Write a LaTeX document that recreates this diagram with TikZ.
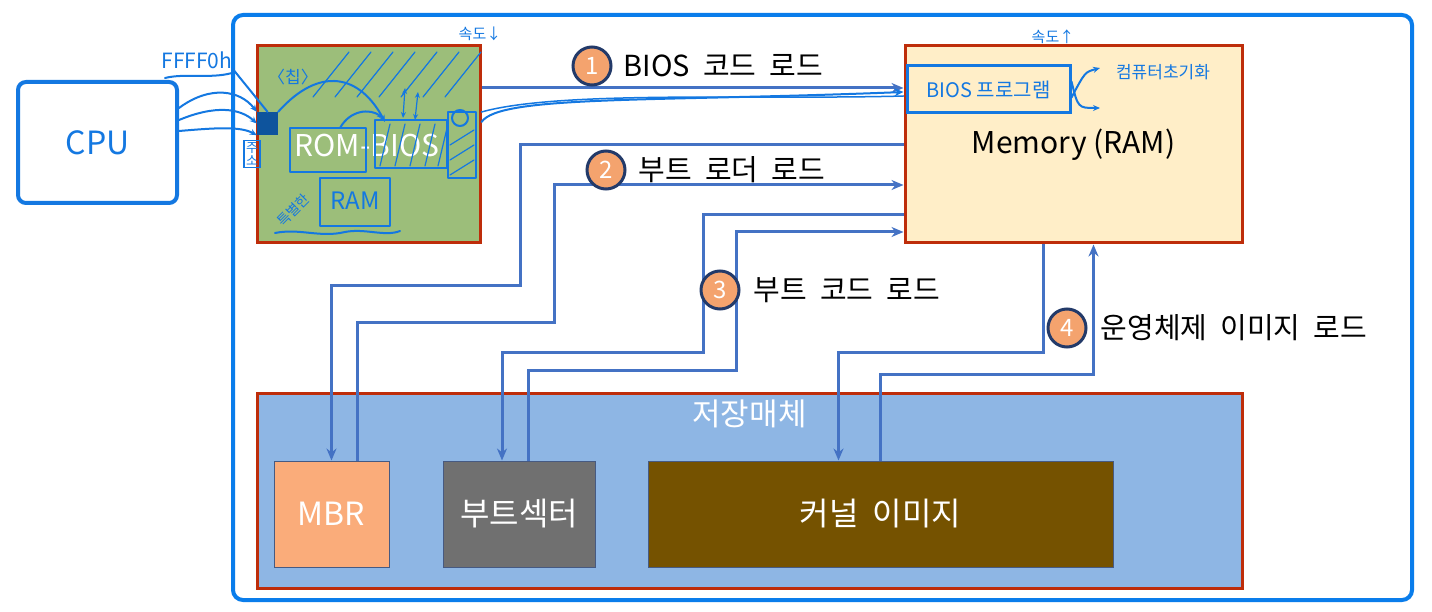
\documentclass[tikz,border=0pt]{standalone}
\usepackage{fontspec}
\setmainfont{Noto Sans CJK KR}
\newfontfamily\loadfont{Noto Sans CJK KR}[WordSpace=2.8]
\newfontfamily\partfont{Noto Sans CJK KR}[WordSpace=2]
\usepackage{tikz}
\usepackage{xcolor}
\usetikzlibrary{arrows.meta, positioning}
\definecolor{framebl}{RGB}{10,125,235}
\definecolor{handbl}{RGB}{20,120,225}
\definecolor{flowbl}{RGB}{68,114,196}
\definecolor{edgered}{RGB}{190,45,10}
\definecolor{romgreen}{RGB}{156,190,122}
\definecolor{memcream}{RGB}{255,238,200}
\definecolor{storeblue}{RGB}{142,182,228}
\definecolor{mbrorange}{RGB}{250,172,122}
\definecolor{bootgray}{RGB}{112,112,112}
\definecolor{kernbrown}{RGB}{117,82,0}
\definecolor{dotorange}{RGB}{244,163,110}
\definecolor{dotnavy}{RGB}{35,58,105}
\tikzstyle{bigbox} = [rectangle, draw=edgered, line width=3pt, inner sep=0pt]
\tikzstyle{partbox} = [rectangle, draw={rgb,255:red,70;green,90;blue,130}, line width=1pt,
  inner sep=0pt, minimum height=106, text=white, font=\partfont\fontsize{32}{34}\selectfont]
\tikzstyle{flow} = [->, draw=flowbl, line width=3pt]
\tikzstyle{numdot} = [circle, fill=dotorange, draw=dotnavy, line width=3pt, minimum size=38,
  inner sep=0pt, text=white, font=\fontsize{24}{26}\selectfont]
\tikzstyle{loadtext} = [inner sep=0pt, font=\loadfont\fontsize{29}{32}\selectfont]
\tikzstyle{hand} = [draw=handbl, line width=2pt, line cap=round, line join=round]
\tikzstyle{handtext} = [text=handbl, inner sep=0pt]

\begin{document}
\begin{tikzpicture}[x=1pt, y=-1pt, >={Stealth[length=12pt,width=10pt]}]
    \useasboundingbox (0,0) rectangle (1432,612);
    \fill[white] (0,0) rectangle (1432,612);

    % Bordo esterno del sistema
    \draw[draw=framebl, line width=4pt, rounded corners=10pt] (233,15) rectangle (1412,600);

    % Blocchi principali
    \node[bigbox, fill=romgreen, minimum width=223, minimum height=197] (rom) at (368.5,144.5) {};
    \node[bigbox, fill=memcream, minimum width=337, minimum height=197,
      font=\fontsize{30}{32}\selectfont] (mem) at (1073.5,144.5) {\raisebox{-3pt}{Memory (RAM)}};
    \node[bigbox, fill=storeblue, minimum width=985, minimum height=195] (store) at (749.5,490.5) {};
    \node[text=white, inner sep=0pt, font=\fontsize{31}{33}\selectfont, below=8pt of store.north] (storetitle) {저장매체};

    % Parti del supporto
    \node[partbox, fill=mbrorange, minimum width=115] (mbr) at (331.5,514) {MBR};
    \node[partbox, fill=bootgray, minimum width=152] (boot) at (519,514) {부트섹터};
    \node[partbox, fill=kernbrown, minimum width=465] (kern) at (880.5,514) {커널 이미지};

    % Testo stampato nel ROM
    \node[text=white, inner sep=0pt, font=\fontsize{30}{32}\selectfont] (romtext) at (367,146) {ROM-BIOS};

    % 1: BIOS
    \draw[flow] (rom.east |- 0,88) -- (mem.west |- 0,88);
    \node[numdot] (c1) at (592,66) {1};
    \node[loadtext, right=11pt of c1] (t1) {BIOS 코드 로드};

    % 2: boot loader
    \draw[flow] (mem.west |- 0,145) -| (520,286) -| (mbr.north);
    \draw[flow] ([xshift=26]mbr.north) |- (554,322) |- (mem.west |- 0,185);
    \node[numdot] (c2) at (606,170) {2};
    \node[loadtext, right=12pt of c2] (t2) {부트 로더 로드};

    % 3: boot code
    \draw[flow] (mem.west |- 0,215) -| (703,352) -| ([xshift=-17]boot.north);
    \draw[flow] ([xshift=9]boot.north) |- (736,370) |- (mem.west |- 0,232);
    \node[numdot] (c3) at (720,290) {3};
    \node[loadtext, right=13pt of c3] (t3) {부트 코드 로드};

    % 4: OS image
    \draw[flow] ([xshift=-30]mem.south) |- ([xshift=-42]kern.north |- 0,352) -- ([xshift=-42]kern.north);
    \draw[flow] (kern.north) |- ([xshift=20]mem.south |- 0,374) -- ([xshift=20]mem.south);
    \node[numdot] (c4) at (1067,328) {4};
    \node[loadtext, right=13pt of c4] (t4) {운영체제 이미지 로드};

    % Annotazioni a mano: CPU
    \node[draw=handbl, line width=4pt, rounded corners=8pt, minimum width=159, minimum height=121] (cpu) at (97.5,142.5) {};
    \node[handtext, font=\fontsize{32}{34}\selectfont] (cputext) at (cpu) {CPU};
    \node[handtext, font=\fontsize{21}{22}\selectfont] (ffff) at (197,60) {FFFF0h};
    \draw[hand] (165,78) .. controls (185,73) and (210,79) .. (232,73);
    \node[fill=handbl!70!black, minimum width=21, minimum height=23, inner sep=0pt] (chip) at (267.5,123.5) {};
    \draw[hand, ->, >={Stealth[length=7pt,width=6pt]}] (cpu.east |- 0,108) .. controls (210,85) and (240,90) .. (chip.north west);
    \draw[hand, ->, >={Stealth[length=7pt,width=6pt]}] (cpu.east |- 0,120) .. controls (215,105) and (240,108) .. (chip.west);
    \draw[hand, ->, >={Stealth[length=7pt,width=6pt]}] (cpu.east |- 0,131) .. controls (215,128) and (240,126) .. (chip.south west);
    \draw[hand] (ffff.south east) -- (chip.north);
    \node[handtext, draw=handbl, line width=1.5pt, inner sep=2pt, align=center,
      font=\fontsize{13}{13}\selectfont] (addr) at (252,154) {주\\소};
    \node[handtext, font=\fontsize{17}{18}\selectfont] (chiptext) at (293,77) {〈칩〉};

    % Annotazioni a mano: ROM
    \foreach \x in {313,335,357,379,401,423,445} {
      \draw[hand, line width=1.2pt] (\x,97) -- (\x+36,52);
    }
    \draw[hand] (290,128) rectangle (366,172);
    \draw[hand] (375,120) rectangle (447,168);
    \foreach \x in {380,395,410,425,438} {
      \draw[hand, line width=1.2pt] (\x,166) -- (\x+10,124);
    }
    \draw[hand, ->, >={Stealth[length=7pt,width=6pt]}] (chip.north east) .. controls (320,65) and (360,75) .. (385,122);
    \draw[hand, ->, >={Stealth[length=6pt,width=5pt]}] (340,128) .. controls (350,110) and (370,108) .. (383,118);
    \draw[hand, <->, >={Stealth[length=6pt,width=5pt]}, line width=1.2pt] (403,118) -- (405,88);
    \draw[hand, <->, >={Stealth[length=6pt,width=5pt]}, line width=1.2pt] (415,120) -- (418,92);
    \draw[hand] (448,112) rectangle (476,178);
    \draw[hand] (460,118) circle (8);
    \foreach \y in {130,145,160} {
      \draw[hand, line width=1.2pt] (450,\y+15) -- (474,\y);
    }
    \draw[hand] (320,178) rectangle (390,226);
    \node[handtext, font=\fontsize{24}{26}\selectfont] (ramtext) at (355,201) {RAM};
    \node[handtext, rotate=45, font=\fontsize{14}{15}\selectfont] (special) at (293,210) {특별한};
    \draw[hand] (275,233) .. controls (300,228) and (320,238) .. (345,232) .. controls (365,228) and (385,237) .. (400,231);

    % Annotazioni a mano: percorso verso la memoria
    \draw[hand, ->, >={Stealth[length=9pt,width=8pt]}] (rom.east |- 0,122) .. controls (500,95) and (650,102) .. (mem.west |- 0,92);
    \draw[hand, line width=1.5pt] (rom.east |- 0,112) .. controls (560,90) and (760,100) .. (mem.west |- 0,96);
    \node[handtext, font=\fontsize{15}{16}\selectfont] (slow) at (480,34) {속도↓};
    \node[handtext, font=\fontsize{15}{16}\selectfont] (fast) at (1053,37) {속도↑};

    % Annotazioni a mano: BIOS in RAM
    \node[draw=handbl, line width=3pt, minimum width=163, minimum height=47, inner sep=0pt] (biosprog) at (988.5,89.5) {};
    \node[handtext, font=\fontsize{20}{22}\selectfont] (biostext) at (biosprog) {BIOS 프로그램};
    \draw[hand, ->, >={Stealth[length=7pt,width=6pt]}] ([yshift=-8]biosprog.east) .. controls (1085,72) .. (1100,68);
    \draw[hand, ->, >={Stealth[length=7pt,width=6pt]}] ([yshift=8]biosprog.east) .. controls (1078,108) .. (1100,108);
    \node[handtext, font=\fontsize{17}{18}\selectfont] (init) at (1163,72) {컴퓨터초기화};

\end{tikzpicture}
\end{document}
